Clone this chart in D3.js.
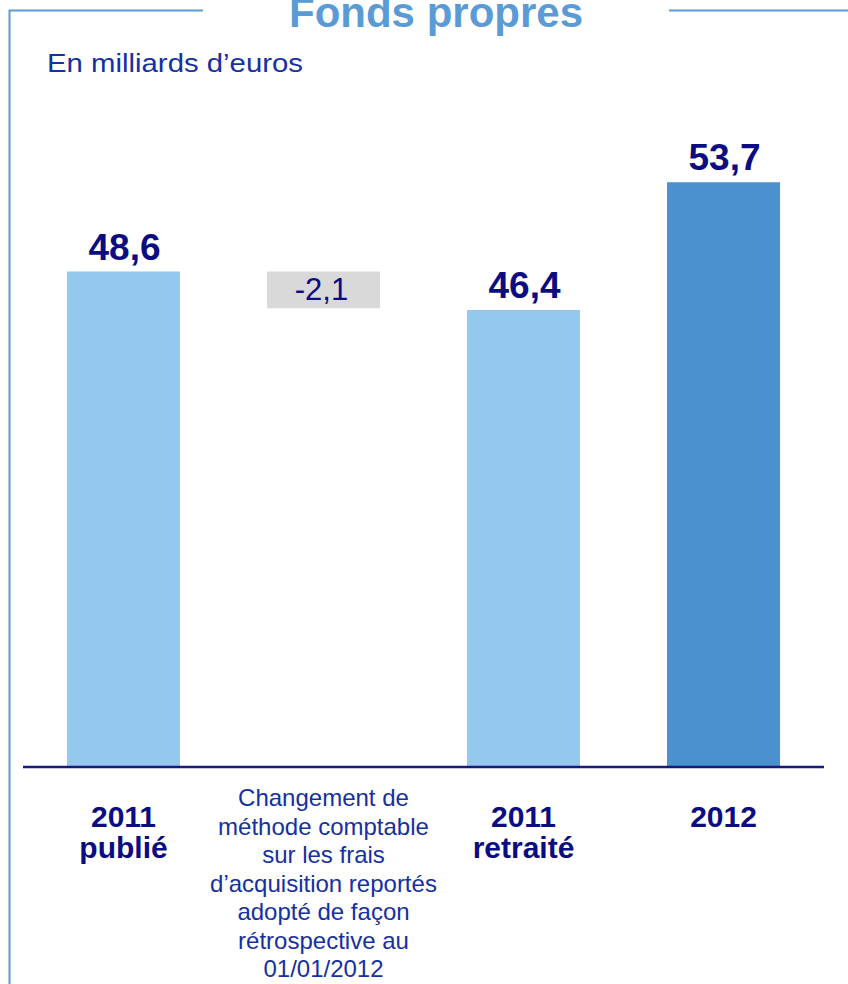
<!DOCTYPE html>
<html>
<head>
<meta charset="utf-8">
<script src="https://cdn.jsdelivr.net/npm/d3@7"></script>
<style>
  html, body { margin: 0; padding: 0; background: #ffffff; }
  svg { display: block; font-family: "Liberation Sans", Arial, sans-serif; }
</style>
</head>
<body>
<svg id="chart" width="848" height="984"></svg>
<script>
// Equity bridge, in billions of euros
const categories = ["2011 publié", "Changement de méthode", "2011 retraité", "2012"];
const values = [48.6, -2.1, 46.4, 53.7];
const kinds = ["total", "delta", "total", "total"];
const valueLabels = ["48,6", "-2,1", "46,4", "53,7"];
const categoryLines = [
  ["2011", "publié"],
  ["Changement de", "méthode comptable", "sur les frais", "d\u2019acquisition reportés", "adopté de façon", "rétrospective au", "01/01/2012"],
  ["2011", "retraité"],
  ["2012"]
];
const barColors = ["#94C8EC", "#D9D9D9", "#94C8EC", "#4A91CE"];

const svg = d3.select("#chart");
const frameColor = "#5B9BD5";
const navy = "#0B0B82";
const textBlue = "#1530A0";

// Frame around the panel, broken by the title
svg.append("path")
  .attr("d", "M9.5,984 V10.5 H203")
  .attr("fill", "none").attr("stroke", frameColor).attr("stroke-width", 2);
svg.append("line")
  .attr("x1", 669).attr("x2", 848).attr("y1", 10.5).attr("y2", 10.5)
  .attr("stroke", frameColor).attr("stroke-width", 2);

svg.append("text")
  .attr("x", 436).attr("y", 27)
  .attr("text-anchor", "middle")
  .attr("font-size", 42).attr("font-weight", "bold")
  .attr("fill", frameColor)
  .text("Fonds propres");

svg.append("text")
  .attr("x", 47).attr("y", 72)
  .attr("font-size", 26)
  .attr("textLength", 256)
  .attr("lengthAdjust", "spacingAndGlyphs")
  .attr("fill", textBlue)
  .text("En milliards d\u2019euros");

// Scales
const x = d3.scaleBand()
  .domain(categories)
  .range([23.5, 823.5])
  .paddingInner(0.435)
  .paddingOuter(0.2175);

const y = d3.scaleLinear()
  .domain([20, 60])
  .range([772, 72]);

const axisY = 767;

// Running level for the waterfall step
let level = 0;
const segs = values.map((v, i) => {
  let top, bottom;
  if (kinds[i] === "total") {
    level = v;
    top = y(v);
    bottom = axisY;
  } else {
    const start = level;
    level = start + v;
    top = y(Math.max(start, level));
    bottom = y(Math.min(start, level));
  }
  return { cat: categories[i], top, bottom, i };
});

svg.append("g").selectAll("rect")
  .data(segs)
  .join("rect")
  .attr("x", d => x(d.cat))
  .attr("y", d => d.top)
  .attr("width", x.bandwidth())
  .attr("height", d => d.bottom - d.top)
  .attr("fill", d => barColors[d.i]);

// Value labels
svg.append("g").selectAll("text")
  .data(segs)
  .join("text")
  .attr("x", d => x(d.cat) + x.bandwidth() / 2 + (kinds[d.i] === "total" ? 1 : -2))
  .attr("y", d => kinds[d.i] === "total" ? d.top - 12 : (d.top + d.bottom) / 2 + 10)
  .attr("text-anchor", "middle")
  .attr("font-size", d => kinds[d.i] === "total" ? 37 : 31)
  .attr("font-weight", d => kinds[d.i] === "total" ? "bold" : "normal")
  .attr("fill", navy)
  .text(d => valueLabels[d.i]);

// Category axis line
svg.append("line")
  .attr("x1", 23).attr("x2", 824)
  .attr("y1", axisY).attr("y2", axisY)
  .attr("stroke", "#1A1A7C").attr("stroke-width", 2.5);

// Category labels
categories.forEach((c, i) => {
  const isNote = kinds[i] === "delta";
  const t = svg.append("text")
    .attr("text-anchor", "middle")
    .attr("font-size", isNote ? 24 : 30)
    .attr("font-weight", isNote ? "normal" : "bold")
    .attr("fill", isNote ? textBlue : navy);
  categoryLines[i].forEach((line, k) => {
    t.append("tspan")
      .attr("x", x(c) + x.bandwidth() / 2)
      .attr("y", isNote ? 806 + k * 28.5 : 827 + k * 31)
      .text(line);
  });
});
</script>
</body>
</html>
